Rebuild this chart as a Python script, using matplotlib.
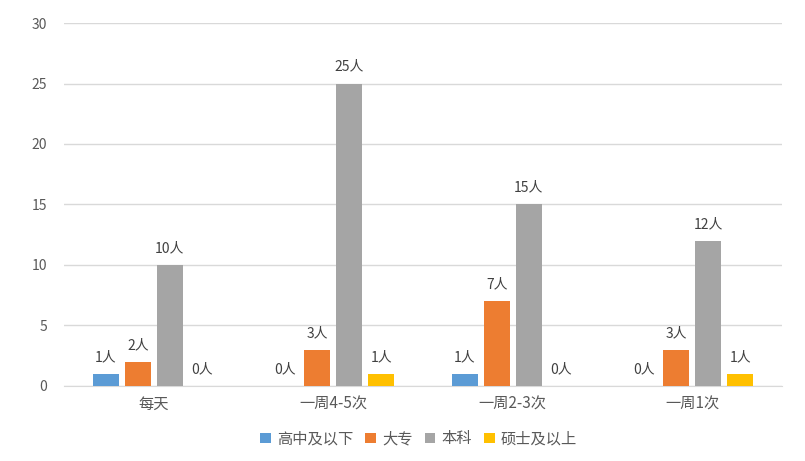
import numpy as np
import matplotlib
matplotlib.use("Agg")
import matplotlib.pyplot as plt

plt.rcParams['font.family'] = ['Noto Sans CJK SC', 'DejaVu Sans']

categories = ['每天', '一周4-5次', '一周2-3次', '一周1次']
series = ['高中及以下', '大专', '本科', '硕士及以上']
values = [
    [1, 0, 1, 0],
    [2, 3, 7, 3],
    [10, 25, 15, 12],
    [0, 1, 0, 1],
]
colors = ['#5B9BD5', '#ED7D31', '#A5A5A5', '#FFC000']

fig = plt.figure(figsize=(8.05, 4.61), dpi=100)
ax = fig.add_axes([0.0795, 0.163, 0.892, 0.787])

x = np.arange(len(categories))
width = 0.145
step = 0.178
for i, (name, vals, c) in enumerate(zip(series, values, colors)):
    pos = x + (i - 1.5) * step
    ax.bar(pos, vals, width, color=c, label=name, zorder=3)
    for px, v in zip(pos, vals):
        ax.annotate(f'{v}人', (px, v), xytext=(0, 7), textcoords='offset points',
                    ha='center', va='bottom', fontsize=10, color='#404040')

ax.set_xlim(-0.5, len(categories) - 0.5)
ax.set_ylim(0, 30)
ax.set_yticks(range(0, 31, 5))
ax.set_xticks(x)
ax.set_xticklabels(categories, fontsize=11, color='#595959')
ax.tick_params(axis='y', labelsize=10, colors='#595959', length=0, pad=12)
ax.tick_params(axis='x', length=0, pad=7)
ax.grid(axis='y', color='#D9D9D9', linewidth=1, zorder=0)
for s in ['top', 'right', 'left']:
    ax.spines[s].set_visible(False)
ax.spines['bottom'].set_color('#D9D9D9')

leg = fig.legend(loc='lower center', bbox_to_anchor=(0.52, 0.0), ncol=4, frameon=False,
                 fontsize=11, handlelength=0.7, handleheight=0.7, handletextpad=0.4,
                 columnspacing=0.8)
for t in leg.get_texts():
    t.set_color('#595959')

fig.savefig('out.png', dpi=100)
